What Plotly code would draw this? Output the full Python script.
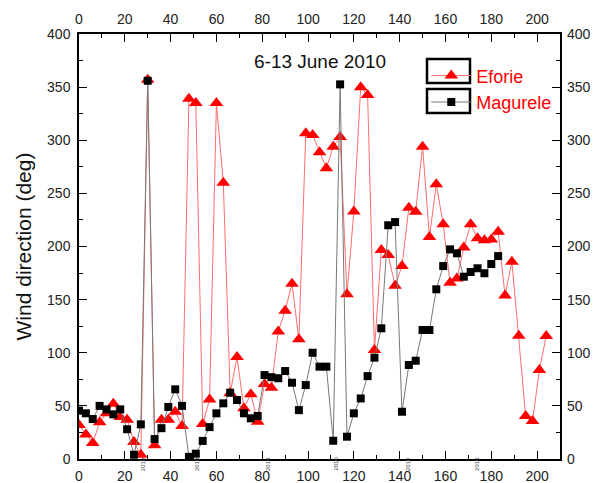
import plotly.graph_objects as go

# ---- data ----
eforie_x = list(range(0, 205, 3))
eforie_deg = [32, 23, 15, 34.5, 43, 52, 39.5, 37, 16, 4, 357, 13, 37, 37, 44.5, 31,
              339, 335, 33, 56, 335, 260, 62, 96, 47.7, 61, 35, 70.6, 67, 120, 139.6,
              165, 112.6, 306.5, 305, 288.6, 273.6, 294, 303, 155, 233, 350, 342.6,
              102.6, 196.7, 192, 163, 181.6, 236.5, 232.8, 294, 209, 258.5, 221, 166,
              170, 199, 221, 207.7, 206, 206.7, 214, 154, 185.7, 116, 40.5, 35.8,
              83.8, 115.8]
magurele_x = list(range(0, 184, 3))
magurele_deg = [45.5, 43, 37.6, 50, 46.7, 42, 46.7, 28, 4, 32.6, 356, 18.8, 29, 49,
                65.6, 50, 2, 5, 17, 30, 43, 52.4, 62.4, 55.5, 43, 38.3, 40.5, 79, 77,
                76, 82.8, 71.8, 46, 69.6, 100, 86.9, 86.9, 17.2, 352.6, 21, 43, 57,
                78, 95.4, 123, 220, 223, 44.5, 88.5, 92.5, 121.4, 121.4, 159.7, 181.6,
                197.3, 193.6, 171.6, 176, 179.5, 174.8, 183.5, 191]
year_label_x = [28, 51.5, 82.5, 112, 143.7, 173.7]
year_label = "2010"
title_text = "6-13 June 2010"
y_title = "Wind direction (deg)"

FONT = "Liberation Sans, Arial, sans-serif"
XR = [0, 210]
YR = [0, 400]

fig = go.Figure()
fig.add_trace(go.Scatter(
    x=eforie_x, y=eforie_deg, name="Eforie", mode="lines+markers",
    line=dict(color="rgb(255,110,110)", width=1),
    marker=dict(symbol="triangle-up", size=12, color="#ff0000"),
))
fig.add_trace(go.Scatter(
    x=magurele_x, y=magurele_deg, name="Magurele", mode="lines+markers",
    line=dict(color="rgb(120,120,120)", width=1),
    marker=dict(symbol="square", size=8, color="#000000"),
))
# helper invisible trace to activate top/right axes
fig.add_trace(go.Scatter(x=[None], y=[None], xaxis="x2", yaxis="y2",
                         showlegend=False, hoverinfo="skip"))

axis_common = dict(showgrid=False, zeroline=False, showline=True, linecolor="black",
                   linewidth=1.5, ticks="inside", tickcolor="black", ticklen=8,
                   tickwidth=1.3, automargin=False,
                   tickfont=dict(family=FONT, size=14, color="#222"))

fig.update_layout(
    width=597, height=483,
    margin=dict(l=79, r=37, t=34, b=24),
    paper_bgcolor="white", plot_bgcolor="white",
    showlegend=True,
    xaxis=dict(range=XR, dtick=20, tick0=0, mirror="allticks",
               minor=dict(dtick=10, ticks="inside", ticklen=4, tickcolor="black"),
               ticklabelstandoff=3, **axis_common),
    yaxis=dict(range=YR, dtick=50, tick0=0, mirror="allticks",
               minor=dict(dtick=25, ticks="inside", ticklen=4, tickcolor="black"),
               title=dict(text=y_title, font=dict(family=FONT, size=21, color="#111"),
                          standoff=10),
               ticklabelstandoff=4, **axis_common),
    xaxis2=dict(range=XR, dtick=20, tick0=0, overlaying="x", side="top",
                showgrid=False, zeroline=False, showline=False, ticks="",
                ticklabelstandoff=6, automargin=False,
                tickfont=dict(family=FONT, size=14, color="#222")),
    yaxis2=dict(range=YR, dtick=50, tick0=0, overlaying="y", side="right",
                showgrid=False, zeroline=False, showline=False, ticks="",
                ticklabelstandoff=6, automargin=False,
                tickfont=dict(family=FONT, size=14, color="#222")),
    legend=dict(x=0.722, y=0.945, xanchor="left", yanchor="top",
                bgcolor="rgba(0,0,0,0)", borderwidth=0,
                font=dict(family=FONT, size=18, color="#ff0000"),
                itemwidth=40, tracegroupgap=0),
)

fig.add_annotation(text=title_text, x=0.5, xref="paper", y=0.935, yref="paper",
                   xanchor="center", yanchor="middle", showarrow=False,
                   font=dict(family=FONT, size=19, color="#111"))

for xv in year_label_x:
    fig.add_annotation(text=year_label, x=xv, xref="x", y=-0.033, yref="paper",
                       textangle=-90, showarrow=False,
                       font=dict(family=FONT, size=6, color="#444"))

# legend boxes
W = 481.0
H = 425.0
for top, bot in [(59, 83), (89, 113)]:
    fig.add_shape(type="rect", xref="paper", yref="paper",
                  x0=(427 - 79) / W, x1=(470 - 79) / W,
                  y0=(459 - bot) / H, y1=(459 - top) / H,
                  line=dict(color="black", width=2.5))

fig.write_html("out.html")
